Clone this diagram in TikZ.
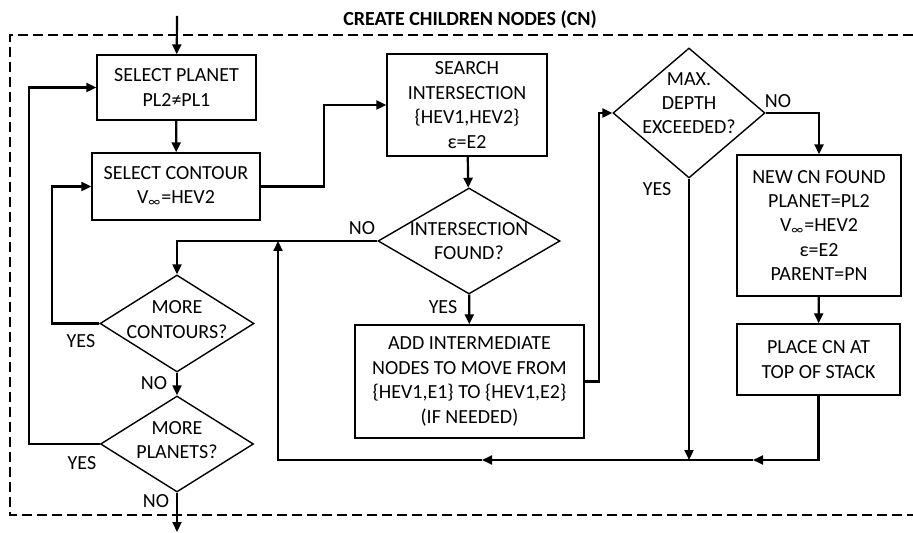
\documentclass[tikz,border=0pt]{standalone}
\usepackage{fontspec}
\setmainfont{Carlito}
\usetikzlibrary{shapes.geometric,arrows.meta}

\begin{document}
\begin{tikzpicture}
[x=0.5pt, y=-0.5pt, >={Triangle[length=5pt,width=4.5pt]},
 every node/.style={font=\fontsize{10}{12.2}\selectfont},
 boxnode/.style={rectangle, draw=black, line width=0.7pt, align=center, inner sep=0pt},
 decnode/.style={diamond, draw=black, line width=0.7pt, align=center, inner sep=-12pt},
 flow/.style={line width=1.1pt},
 frame/.style={line width=1pt, dash pattern=on 5pt off 2.5pt}]
\useasboundingbox (0,0) rectangle (913,533);
\node[font=\fontsize{10}{12.2}\selectfont\bfseries] (title) at (470,20) {CREATE CHILDREN NODES (CN)};
\draw[frame] (913,35) -- (10,35) -- (10,515) -- (913,515);
\node[boxnode, minimum width=79.5pt, minimum height=32.5pt] (planet) at (176.5,87.5) {SELECT PLANET\\PL2≠PL1};
\node[boxnode, minimum width=84pt, minimum height=33.5pt] (contour) at (176,186.5) {SELECT CONTOUR\\V\textsubscript{∞}=HEV2};
\node[boxnode, minimum width=80pt, minimum height=51pt] (search) at (467,105) {SEARCH\\INTERSECTION\\\{HEV1,HEV2\}\\ε=E2};
\node[decnode, minimum width=91pt, minimum height=53pt] (found) at (469,241) {INTERSECTION\\FOUND?};
\node[boxnode, minimum width=114.5pt, minimum height=56.5pt] (addnodes) at (469.5,381.5) {ADD INTERMEDIATE\\NODES TO MOVE FROM\\\{HEV1,E1\} TO \{HEV1,E2\}\\(IF NEEDED)};
\node[decnode, minimum width=76pt, minimum height=65pt, text depth=10pt] (maxdepth) at (689,113) {MAX.\\DEPTH\\EXCEEDED?};
\node[boxnode, minimum width=82pt, minimum height=70.5pt] (newcn) at (819,225.5) {NEW CN FOUND\\PLANET=PL2\\V\textsubscript{∞}=HEV2\\ε=E2\\PARENT=PN};
\node[boxnode, minimum width=81.5pt, minimum height=35.5pt] (place) at (818.5,359.5) {PLACE CN AT\\TOP OF STACK};
\node[decnode, minimum width=77pt, minimum height=48.5pt, text depth=4pt] (morecont) at (177,323.5) {MORE\\CONTOURS?};
\node[decnode, minimum width=76.5pt, minimum height=48pt, text depth=4pt] (moreplan) at (177,444) {MORE\\PLANETS?};
\coordinate (in) at (177,16);
\coordinate (out) at (177,532);
\coordinate (join) at (689,460);
\coordinate (mid1) at (753,460);
\coordinate (mid2) at (482,460);
\coordinate (back) at (278,241);
% main chain
\draw[flow,->] (in) -- (planet);
\draw[flow,->] (planet) -- (contour);
\draw[flow,->] (contour.east) -- ++(63,0) |- (search.west);
\draw[flow,->] (search) -- (found);
\draw[flow,->] (found.west) -| (morecont.north);
\node (nofound) at (362,228) {NO};
\draw[flow,->] (found) -- (addnodes);
\node (yesfound) at (443,307) {YES};
\draw[flow,->] (morecont) -- (moreplan);
\node (nocont) at (154,383) {NO};
\draw[flow,->] (moreplan.south) -- (out);
\node (noplan) at (156,501) {NO};
% loops back
\draw[flow,->] (morecont.west) -- ++(-47,0) |- (contour.west);
\node (yescont) at (81,341) {YES};
\draw[flow,->] (moreplan.west) -- ++(-71,0) |- (planet.west);
\node (yesplan) at (82,463) {YES};
% right part
\draw[flow,->] (addnodes.east) -- ++(14,0) |- (maxdepth.west);
\draw[flow,->] (maxdepth.east) -| (newcn.north);
\node (nodepth) at (778,101) {NO};
\draw[flow,->] (newcn) -- (place);
\draw[flow,->] (maxdepth.south) -- (join);
\node (yesdepth) at (657,189) {YES};
\draw[flow,->] (place.south) |- (mid1);
\draw[flow] (mid1) -- (join);
\draw[flow,->] (join) -- (mid2);
\draw[flow,->] (mid2) -| (back);
\end{tikzpicture}
\end{document}
